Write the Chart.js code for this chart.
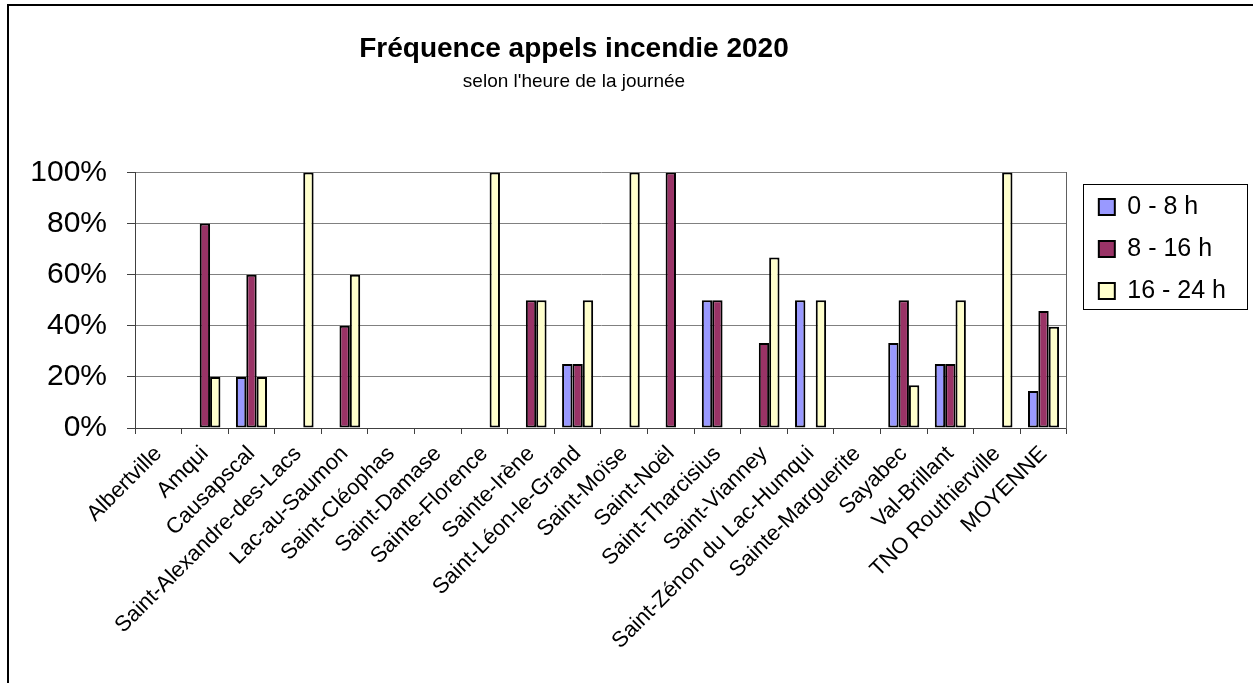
<!DOCTYPE html>
<html><head><meta charset="utf-8">
<script src="https://cdn.jsdelivr.net/npm/chart.js@4"></script>
<style>html,body{margin:0;padding:0;background:#fff}#wrap{width:1253px;height:683px}</style>
</head><body><div id="wrap"><canvas id="c" width="1253" height="683"></canvas></div>
<script>
const categories = ['Albertville','Amqui','Causapscal','Saint-Alexandre-des-Lacs','Lac-au-Saumon','Saint-Cléophas','Saint-Damase','Sainte-Florence','Sainte-Irène','Saint-Léon-le-Grand','Saint-Moïse','Saint-Noël','Saint-Tharcisius','Saint-Vianney','Saint-Zénon du Lac-Humqui','Sainte-Marguerite','Sayabec','Val-Brillant','TNO Routhierville','MOYENNE'];
const seriesNames = ['0 - 8 h','8 - 16 h','16 - 24 h'];
const values0to8   = [0,0,20,0,0,0,0,0,0,25,0,0,50,0,50,0,33.3,25,0,14.5];
const values8to16  = [0,80,60,0,40,0,0,0,50,25,0,100,50,33.3,0,0,50,25,0,45.8];
const values16to24 = [0,20,20,100,60,0,0,100,50,50,100,0,0,66.7,50,0,16.7,50,100,39.6];
const yTickValues = [0,20,40,60,80,100];
const titleText = 'Fréquence appels incendie 2020';
const subtitleText = "selon l'heure de la journée";

const FONT = "'Liberation Sans', Arial, sans-serif";

const framePlugin = {
  id: 'frame',
  beforeDraw(chart) {
    const ctx = chart.ctx;
    ctx.save();
    ctx.fillStyle = '#fff';
    ctx.fillRect(0, 0, chart.width, chart.height);
    ctx.strokeStyle = '#000';
    ctx.lineWidth = 2;
    ctx.strokeRect(8, 5, 3000, 3000);
    ctx.restore();
  }
};

const shiftPlugin = {
  id: 'shiftBoxes',
  afterLayout(chart) {
    chart.boxes.forEach(b => {
      if (b.position === 'top' && b.options && b.options.text !== undefined) {
        b.left -= 44; b.right -= 44;
      }
    });
    if (chart.legend) { chart.legend.top += 5; chart.legend.bottom += 5; }
  }
};

const legendFramePlugin = {
  id: 'legendFrame',
  afterDraw(chart) {
    const lg = chart.legend;
    if (!lg || !lg.legendHitBoxes || !lg.legendHitBoxes.length) return;
    const hb = lg.legendHitBoxes;
    const first = hb[0], last = hb[hb.length - 1];
    const ctx = chart.ctx;
    ctx.save();
    ctx.strokeStyle = '#000';
    ctx.lineWidth = 1;
    const l = Math.round(first.left - 16) + 0.5;
    const t = Math.round(first.top - 10) + 0.5;
    const b = Math.round(last.top + last.height + 6) + 0.5;
    ctx.strokeRect(l, t, 164, b - t);
    ctx.restore();
  }
};

new Chart(document.getElementById('c'), {
  type: 'bar',
  data: {
    labels: categories,
    datasets: [
      { label: seriesNames[0], data: values0to8, backgroundColor: '#9999FF', borderColor: '#000', borderWidth: 2, borderSkipped: false },
      { label: seriesNames[1], data: values8to16, backgroundColor: '#993366', borderColor: '#000', borderWidth: 2, borderSkipped: false },
      { label: seriesNames[2], data: values16to24, backgroundColor: '#FFFFCC', borderColor: '#000', borderWidth: 2, borderSkipped: false }
    ]
  },
  options: {
    responsive: false,
    animation: false,
    devicePixelRatio: 1,
    layout: { padding: { left: 0, right: 17, top: 0, bottom: 0 } },
    datasets: { bar: { categoryPercentage: 0.667, barPercentage: 1 } },
    plugins: {
      title: { display: true, text: titleText, color: '#000', font: { family: FONT, size: 28, weight: 'bold', lineHeight: 1.2 }, padding: { top: 32, bottom: 0 } },
      subtitle: { display: true, text: subtitleText, color: '#000', font: { family: FONT, size: 19, weight: 'normal', lineHeight: 1.2 }, padding: { top: 5, bottom: 79 } },
      legend: {
        position: 'right', align: 'start', fullSize: false,
        labels: { color: '#000', font: { family: FONT, size: 25 }, boxWidth: 16, boxHeight: 16, padding: 17 }
      },
      tooltip: { enabled: false }
    },
    scales: {
      x: {
        grid: { display: true, drawOnChartArea: false, drawTicks: true, tickLength: 6, offset: true, color: '#404040', tickColor: '#404040' },
        border: { display: true, color: '#404040', width: 1 },
        ticks: { color: '#000', font: { family: FONT, size: 22 }, maxRotation: 45, minRotation: 45, autoSkip: false, padding: 7 },
        afterFit(s) { s.height = 255; }
      },
      y: {
        min: 0, max: 100,
        afterBuildTicks(s) { s.ticks = yTickValues.map(v => ({ value: v })); },
        grid: { color: '#808080', tickColor: '#404040', tickLength: 8, lineWidth: 1 },
        border: { display: true, color: '#404040', width: 1 },
        ticks: { color: '#000', font: { family: FONT, size: 30 }, padding: 20, callback: v => v + '%' },
        afterFit(s) { s.width = 135; }
      },
      y2: {
        position: 'right', display: true,
        grid: { display: false, drawTicks: false },
        border: { display: true, color: '#606060', width: 1 },
        ticks: { display: false },
        afterFit(s) { s.width = 15; }
      }
    }
  },
  plugins: [framePlugin, shiftPlugin, legendFramePlugin]
});
</script>
</body></html>
